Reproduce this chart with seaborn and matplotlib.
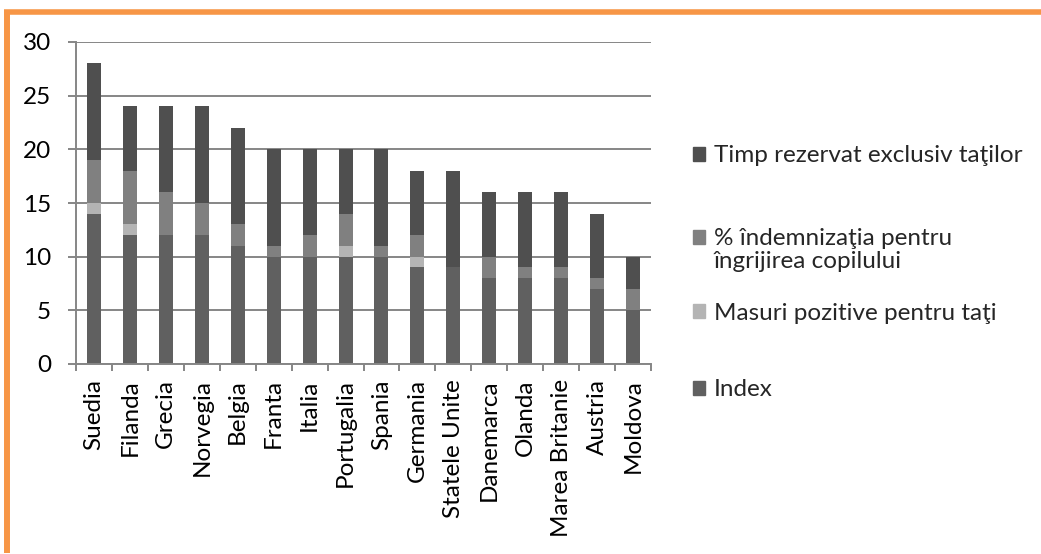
import matplotlib
matplotlib.use("Agg")
import matplotlib.pyplot as plt
import matplotlib.patches as mpatches
from matplotlib.lines import Line2D
import seaborn as sns
import pandas as pd
import numpy as np

countries = ["Suedia", "Filanda", "Grecia", "Norvegia", "Belgia", "Franta", "Italia",
             "Portugalia", "Spania", "Germania", "Statele Unite", "Danemarca", "Olanda",
             "Marea Britanie", "Austria", "Moldova"]
index_vals = [14, 12, 12, 12, 11, 10, 10, 10, 10, 9, 9, 8, 8, 8, 7, 5]
masuri_vals = [1, 1, 0, 0, 0, 0, 0, 1, 0, 1, 0, 0, 0, 0, 0, 0]
indemn_vals = [4, 5, 4, 3, 2, 1, 2, 3, 1, 2, 0, 2, 1, 1, 1, 2]
timp_vals = [9, 6, 8, 9, 9, 9, 8, 6, 9, 6, 9, 6, 7, 7, 6, 3]

series_names = ["Index", "Masuri pozitive pentru taţi",
                "% îndemnizaţia pentru\nîngrijirea copilului",
                "Timp rezervat exclusiv taţilor"]
colors = {"Index": "#606060", "Masuri pozitive pentru taţi": "#b4b4b4",
          "% îndemnizaţia pentru\nîngrijirea copilului": "#808080",
          "Timp rezervat exclusiv taţilor": "#4f4f4f"}

sns.set_theme(style="white")
plt.rcParams['font.family'] = ['Lato', 'DejaVu Sans']
FS = 17.5

df = pd.DataFrame({"country": countries, "Index": index_vals,
                   "Masuri pozitive pentru taţi": masuri_vals,
                   "% îndemnizaţia pentru\nîngrijirea copilului": indemn_vals,
                   "Timp rezervat exclusiv taţilor": timp_vals})

fig = plt.figure(figsize=(10.41, 5.54), dpi=100)
ax = fig.add_axes([76/1041, (554-364)/554, (651-76)/1041, (364-42)/554])

# cumulative stacks, draw from top layer down
cum = df[series_names].cumsum(axis=1)
for name in reversed(series_names):
    sns.barplot(x=df["country"], y=cum[name], color=colors[name], width=0.39,
                saturation=1, ax=ax, order=countries, zorder=2, linewidth=0)

ax.set_ylim(0, 30)
ax.set_xlim(-0.5, len(countries) - 0.5)
ax.set_yticks(np.arange(0, 31, 5))
ax.set_xlabel("")
ax.set_ylabel("")
grid_c = "#868686"
ax.yaxis.grid(True, color=grid_c, linewidth=1.4, zorder=0)
ax.set_axisbelow(True)
for s in ["top", "right"]:
    ax.spines[s].set_visible(False)
for s in ["left", "bottom"]:
    ax.spines[s].set_color(grid_c)
    ax.spines[s].set_linewidth(1.4)
ax.tick_params(axis="y", which="major", length=6, width=1.4, color=grid_c,
               direction="out", pad=12, labelsize=FS, left=True, labelcolor="black")
ax.set_xticks(np.arange(-0.5, len(countries), 1), minor=True)
ax.tick_params(axis="x", which="minor", length=5, width=1.4, color=grid_c,
               direction="out", bottom=True)
ax.tick_params(axis="x", which="major", length=0, pad=11, labelsize=FS,
               labelrotation=90, labelcolor="black")
for lab in ax.get_xticklabels():
    lab.set_va("top")
    lab.set_ha("center")

# legend entries (Excel-like spacing)
legend_x = 693 / 1041
entries = [("Timp rezervat exclusiv taţilor", 156),
           ("Masuri pozitive pentru taţi", 313),
           ("Index", 390)]
for name, yc in entries:
    h = mpatches.Patch(color=colors[name])
    fig.legend(handles=[h], labels=[name], loc="center left",
               bbox_to_anchor=(legend_x, 1 - yc / 554), frameon=False,
               fontsize=FS, handlelength=0.5, handleheight=0.5,
               handletextpad=0.35, borderpad=0, borderaxespad=0)
name2 = "% îndemnizaţia pentru\nîngrijirea copilului"
l1, l2 = name2.split("\n")
h1 = mpatches.Patch(color=colors[name2])
h2 = mpatches.Patch(color="none", alpha=0)
fig.legend(handles=[h1, h2], labels=[l1, l2], loc="center left",
           bbox_to_anchor=(legend_x, 1 - 250 / 554), frameon=False,
           fontsize=FS, handlelength=0.5, handleheight=0.5,
           handletextpad=0.35, borderpad=0, borderaxespad=0, labelspacing=0.05)

# orange frame lines
orange = "#F79646"
fig.add_artist(Line2D([4/1041, 1], [1 - 12/554, 1 - 12/554], color=orange,
                      linewidth=4, transform=fig.transFigure, solid_capstyle="butt"))
fig.add_artist(Line2D([7/1041, 7/1041], [1 - 10/554, 1 - 553/554], color=orange,
                      linewidth=4.3, transform=fig.transFigure, solid_capstyle="butt"))

fig.savefig("out.png", dpi=100, facecolor="white")
